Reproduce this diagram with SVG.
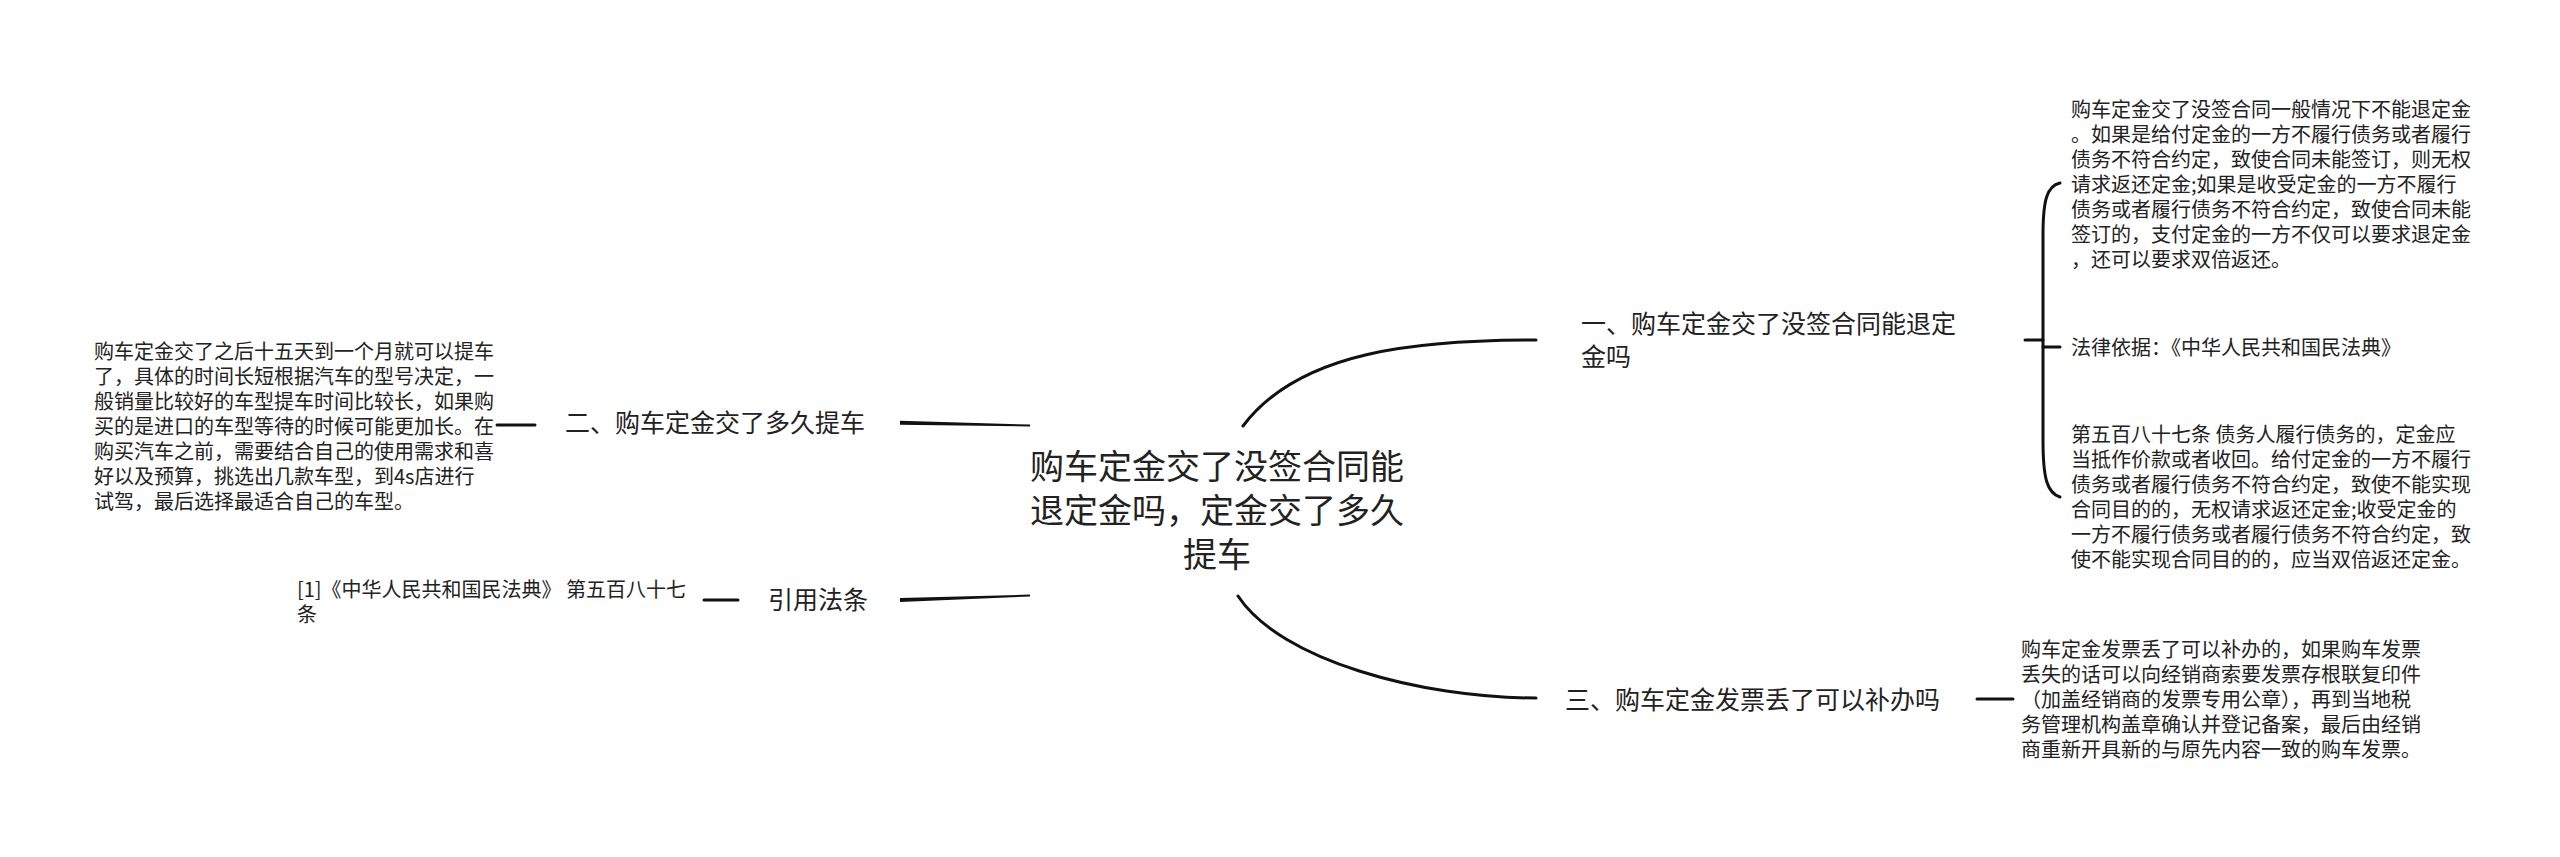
<svg xmlns="http://www.w3.org/2000/svg" width="2560" height="857" viewBox="0 0 2560 857">
<style>
text{font-family:"Noto Sans CJK SC","Noto Sans",sans-serif;fill:#222}
.root{font-size:34px}
.br{font-size:25px}
.lf{font-size:20px}
.ln{fill:none;stroke:#111;stroke-width:3;stroke-linecap:round}
.tp{fill:#111;stroke:none}
</style>
<rect width="2560" height="857" fill="#fff"/>
<g id="connectors">
<path class="ln" d="M1243,426 C1300,350 1420,340 1536,340"/>
<path class="ln" d="M1238,596 C1280,660 1420,698 1536,698"/>
<path class="tp" d="M900,420.8 L1030,424.6 L1030,426.4 L900,424.8 Z"/>
<path class="tp" d="M900,598 L1030,594.6 L1030,596.4 L900,602 Z"/>
<path class="ln" d="M497,425 L535,425"/>
<path class="ln" d="M704,600 L738,600"/>
<path class="ln" d="M1977,699 L2013,699"/>
<path class="ln" d="M2025,340 L2043,340"/>
<path class="ln" d="M2043,347 L2060,347"/>
<path class="ln" d="M2060,183 C2047,186 2043,200 2043,235 L2043,440 C2043,478 2047,493 2060,497"/>
</g>
<g id="root">
<text class="root" text-anchor="middle" x="1217" y="479">购车定金交了没签合同能</text>
<text class="root" text-anchor="middle" x="1217" y="523">退定金吗，定金交了多久</text>
<text class="root" text-anchor="middle" x="1217" y="567">提车</text>
</g>
<g id="branch1">
<text class="br" x="1581" y="333">一、购车定金交了没签合同能退定</text>
<text class="br" x="1581" y="366">金吗</text>
</g>
<g id="leaf1a">
<text class="lf" x="2071" y="117">购车定金交了没签合同一般情况下不能退定金</text>
<text class="lf" x="2071" y="142">。如果是给付定金的一方不履行债务或者履行</text>
<text class="lf" x="2071" y="167">债务不符合约定，致使合同未能签订，则无权</text>
<text class="lf" x="2071" y="192">请求返还定金;如果是收受定金的一方不履行</text>
<text class="lf" x="2071" y="217">债务或者履行债务不符合约定，致使合同未能</text>
<text class="lf" x="2071" y="242">签订的，支付定金的一方不仅可以要求退定金</text>
<text class="lf" x="2071" y="267">，还可以要求双倍返还。</text>
</g>
<g id="leaf1b">
<text class="lf" x="2071" y="355">法律依据：《中华人民共和国民法典》</text>
</g>
<g id="leaf1c">
<text class="lf" x="2071" y="442">第五百八十七条 债务人履行债务的，定金应</text>
<text class="lf" x="2071" y="467">当抵作价款或者收回。给付定金的一方不履行</text>
<text class="lf" x="2071" y="492">债务或者履行债务不符合约定，致使不能实现</text>
<text class="lf" x="2071" y="517">合同目的的，无权请求返还定金;收受定金的</text>
<text class="lf" x="2071" y="542">一方不履行债务或者履行债务不符合约定，致</text>
<text class="lf" x="2071" y="567">使不能实现合同目的的，应当双倍返还定金。</text>
</g>
<g id="branch3">
<text class="br" x="1565" y="709">三、购车定金发票丢了可以补办吗</text>
</g>
<g id="leaf3">
<text class="lf" x="2021" y="657">购车定金发票丢了可以补办的，如果购车发票</text>
<text class="lf" x="2021" y="682">丢失的话可以向经销商索要发票存根联复印件</text>
<text class="lf" x="2021" y="707">（加盖经销商的发票专用公章），再到当地税</text>
<text class="lf" x="2021" y="732">务管理机构盖章确认并登记备案，最后由经销</text>
<text class="lf" x="2021" y="757">商重新开具新的与原先内容一致的购车发票。</text>
</g>
<g id="branch2">
<text class="br" x="565" y="432">二、购车定金交了多久提车</text>
</g>
<g id="leaf2">
<text class="lf" x="94" y="359">购车定金交了之后十五天到一个月就可以提车</text>
<text class="lf" x="94" y="384">了，具体的时间长短根据汽车的型号决定，一</text>
<text class="lf" x="94" y="409">般销量比较好的车型提车时间比较长，如果购</text>
<text class="lf" x="94" y="434">买的是进口的车型等待的时候可能更加长。在</text>
<text class="lf" x="94" y="459">购买汽车之前，需要结合自己的使用需求和喜</text>
<text class="lf" x="94" y="484">好以及预算，挑选出几款车型，到4s店进行</text>
<text class="lf" x="94" y="509">试驾，最后选择最适合自己的车型。</text>
</g>
<g id="branch4">
<text class="br" x="768" y="609">引用法条</text>
</g>
<g id="leaf4">
<text class="lf" x="297" y="597">[1]《中华人民共和国民法典》 第五百八十七</text>
<text class="lf" x="297" y="622">条</text>
</g>
</svg>
